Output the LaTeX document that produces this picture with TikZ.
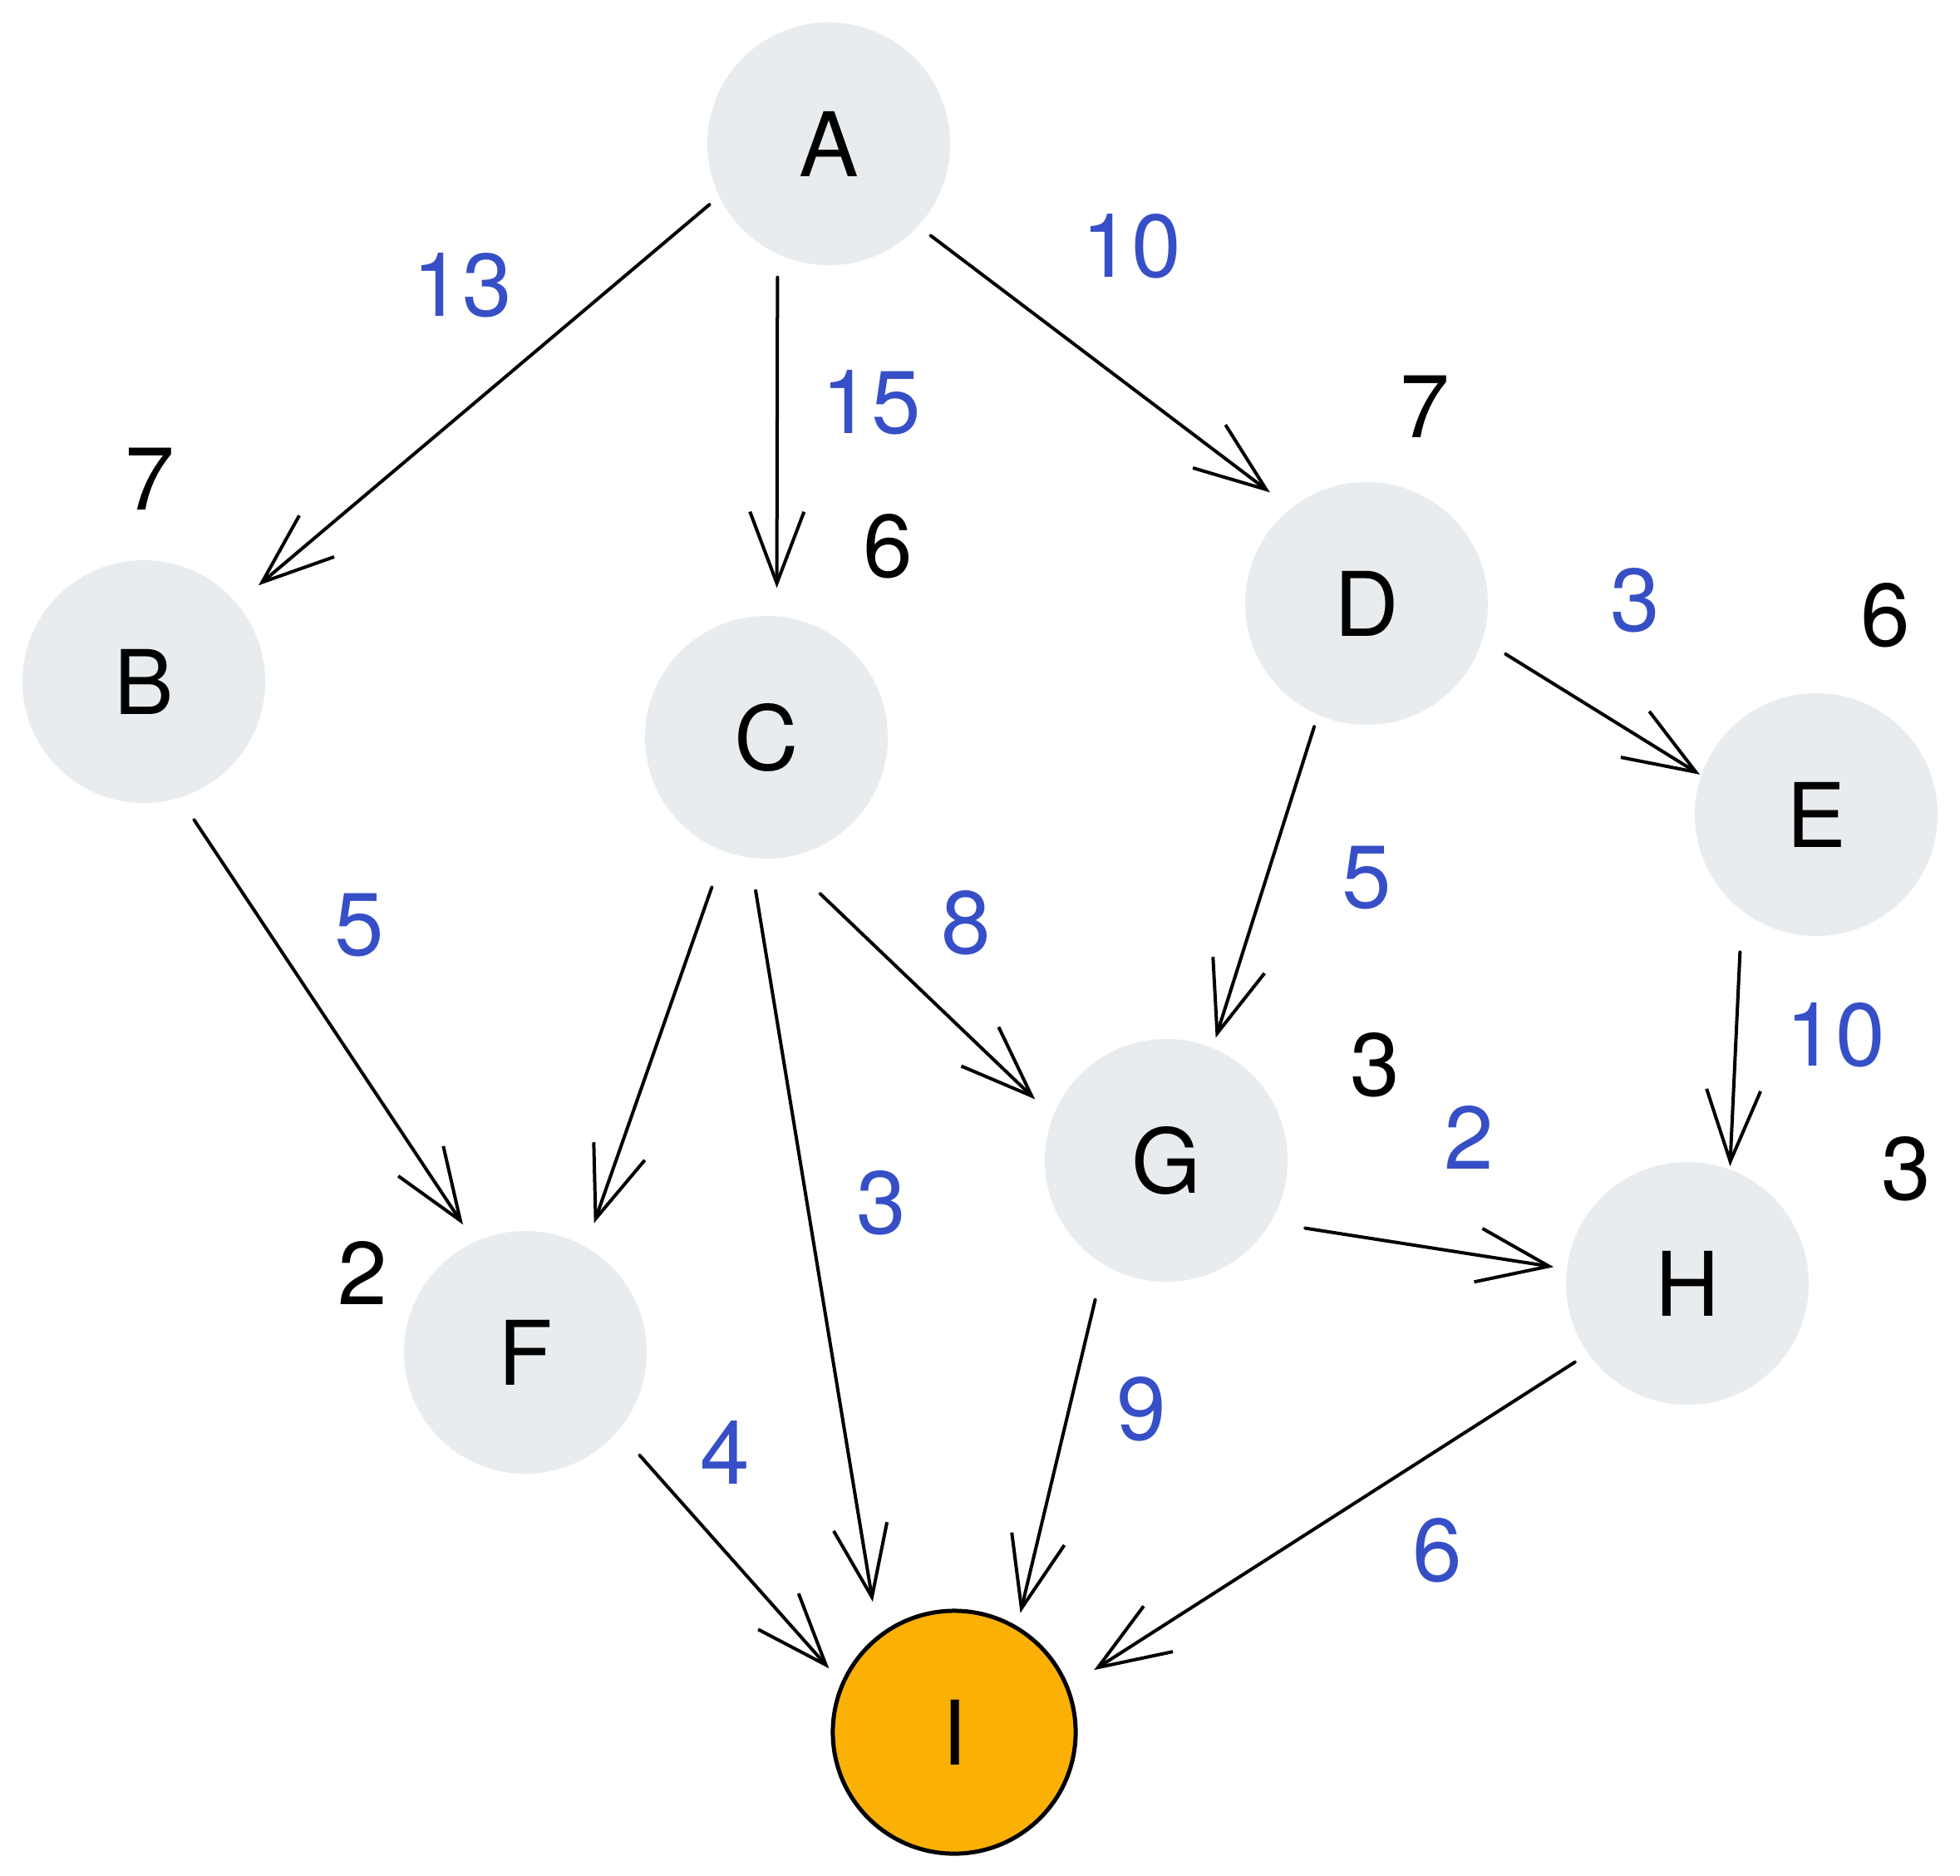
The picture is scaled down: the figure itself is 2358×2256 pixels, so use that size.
\documentclass[tikz,border=0pt]{standalone}
\usepackage{fontspec}
\setmainfont{TeX Gyre Heros}
\usetikzlibrary{arrows.meta,calc}
\definecolor{nodegray}{HTML}{E9ECEF}
\definecolor{goalfill}{HTML}{FAB005}
\definecolor{weightblue}{HTML}{364FC7}
% point at distance #3 (cm) from the centre of node #1, in direction #2 degrees
\newcommand{\rim}[3]{($(#1.center)!#3cm!(#1.#2)$)}
\begin{document}
\begin{tikzpicture}[x=0.01cm,y=-0.01cm,
  every node/.style={font=\fontsize{30.5}{36}\selectfont},
  vertex/.style={circle,fill=nodegray,minimum size=2.92cm,inner sep=0pt,outer sep=0pt},
  goal/.style={vertex,fill=goalfill,draw=black,line width=0.05cm},
  heur/.style={text=black},
  weight/.style={text=weightblue},
  edge/.style={line width=0.04cm,line cap=round,
    -{Straight Barb[length=0.86cm,width=0.65cm,line width=0.04cm]}}
]
\useasboundingbox (0,0) rectangle (2358,2256);

% graph vertices
\node[vertex] (A) at (997,173) {A};
\node[vertex] (B) at (173,820) {B};
\node[vertex] (C) at (922,887) {C};
\node[vertex] (D) at (1644,726) {D};
\node[vertex] (E) at (2185,980) {E};
\node[vertex] (F) at (632,1627) {F};
\node[vertex] (G) at (1403,1396) {G};
\node[vertex] (H) at (2030,1544) {H};
\node[goal]   (I) at (1148,2084) {I};

% directed, weighted edges
\draw[edge] \rim{A}{207.7}{1.61} -- \rim{B}{40.0}{1.80};
\draw[edge] \rim{A}{249.6}{1.72} -- \rim{C}{86.8}{1.80};
\draw[edge] \rim{A}{318.2}{1.65} -- \rim{D}{131.8}{1.77};
\draw[edge] \rim{B}{290.9}{1.77} -- \rim{F}{116.4}{1.71};
\draw[edge] \rim{C}{250.2}{1.92} -- \rim{F}{62.3}{1.76};
\draw[edge] \rim{C}{266.3}{1.85} -- \rim{I}{122.7}{1.85};
\draw[edge] \rim{C}{289.3}{1.99} -- \rim{G}{155.2}{1.74};
\draw[edge] \rim{D}{247.4}{1.61} -- \rim{G}{68.3}{1.59};
\draw[edge] \rim{D}{340.6}{1.78} -- \rim{E}{161.1}{1.48};
\draw[edge] \rim{E}{241.5}{1.89} -- \rim{H}{70.6}{1.50};
\draw[edge] \rim{G}{334.3}{1.86} -- \rim{H}{173.6}{1.62};
\draw[edge] \rim{G}{243.4}{1.88} -- \rim{I}{61.6}{1.64};
\draw[edge] \rim{F}{318.7}{1.85} -- \rim{I}{153.3}{1.69};
\draw[edge] \rim{H}{215.1}{1.65} -- \rim{I}{24.3}{1.84};

% edge weights
\node[weight] (wAB) at (556,343) {13};
\node[weight] (wAC) at (1048,484) {15};
\node[weight] (wAD) at (1361,296) {10};
\node[weight] (wBF) at (432,1113) {5};
\node[weight] (wDE) at (1967,722) {3};
\node[weight] (wDG) at (1644,1056) {5};
\node[weight] (wCG) at (1162,1110) {8};
\node[weight] (wEH) at (2208,1245) {10};
\node[weight] (wGH) at (1767,1368) {2};
\node[weight] (wCI) at (1060,1447) {3};
\node[weight] (wGI) at (1373,1695) {9};
\node[weight] (wFI) at (872,1747) {4};
\node[weight] (wHI) at (1729,1865) {6};

% heuristic estimates
\node[heur] (hB) at (180,576) {7};
\node[heur] (hC) at (1068,657) {6};
\node[heur] (hD) at (1714,489) {7};
\node[heur] (hE) at (2268,740) {6};
\node[heur] (hG) at (1654,1281) {3};
\node[heur] (hH) at (2293,1406) {3};
\node[heur] (hF) at (436,1531) {2};
\end{tikzpicture}
\end{document}
